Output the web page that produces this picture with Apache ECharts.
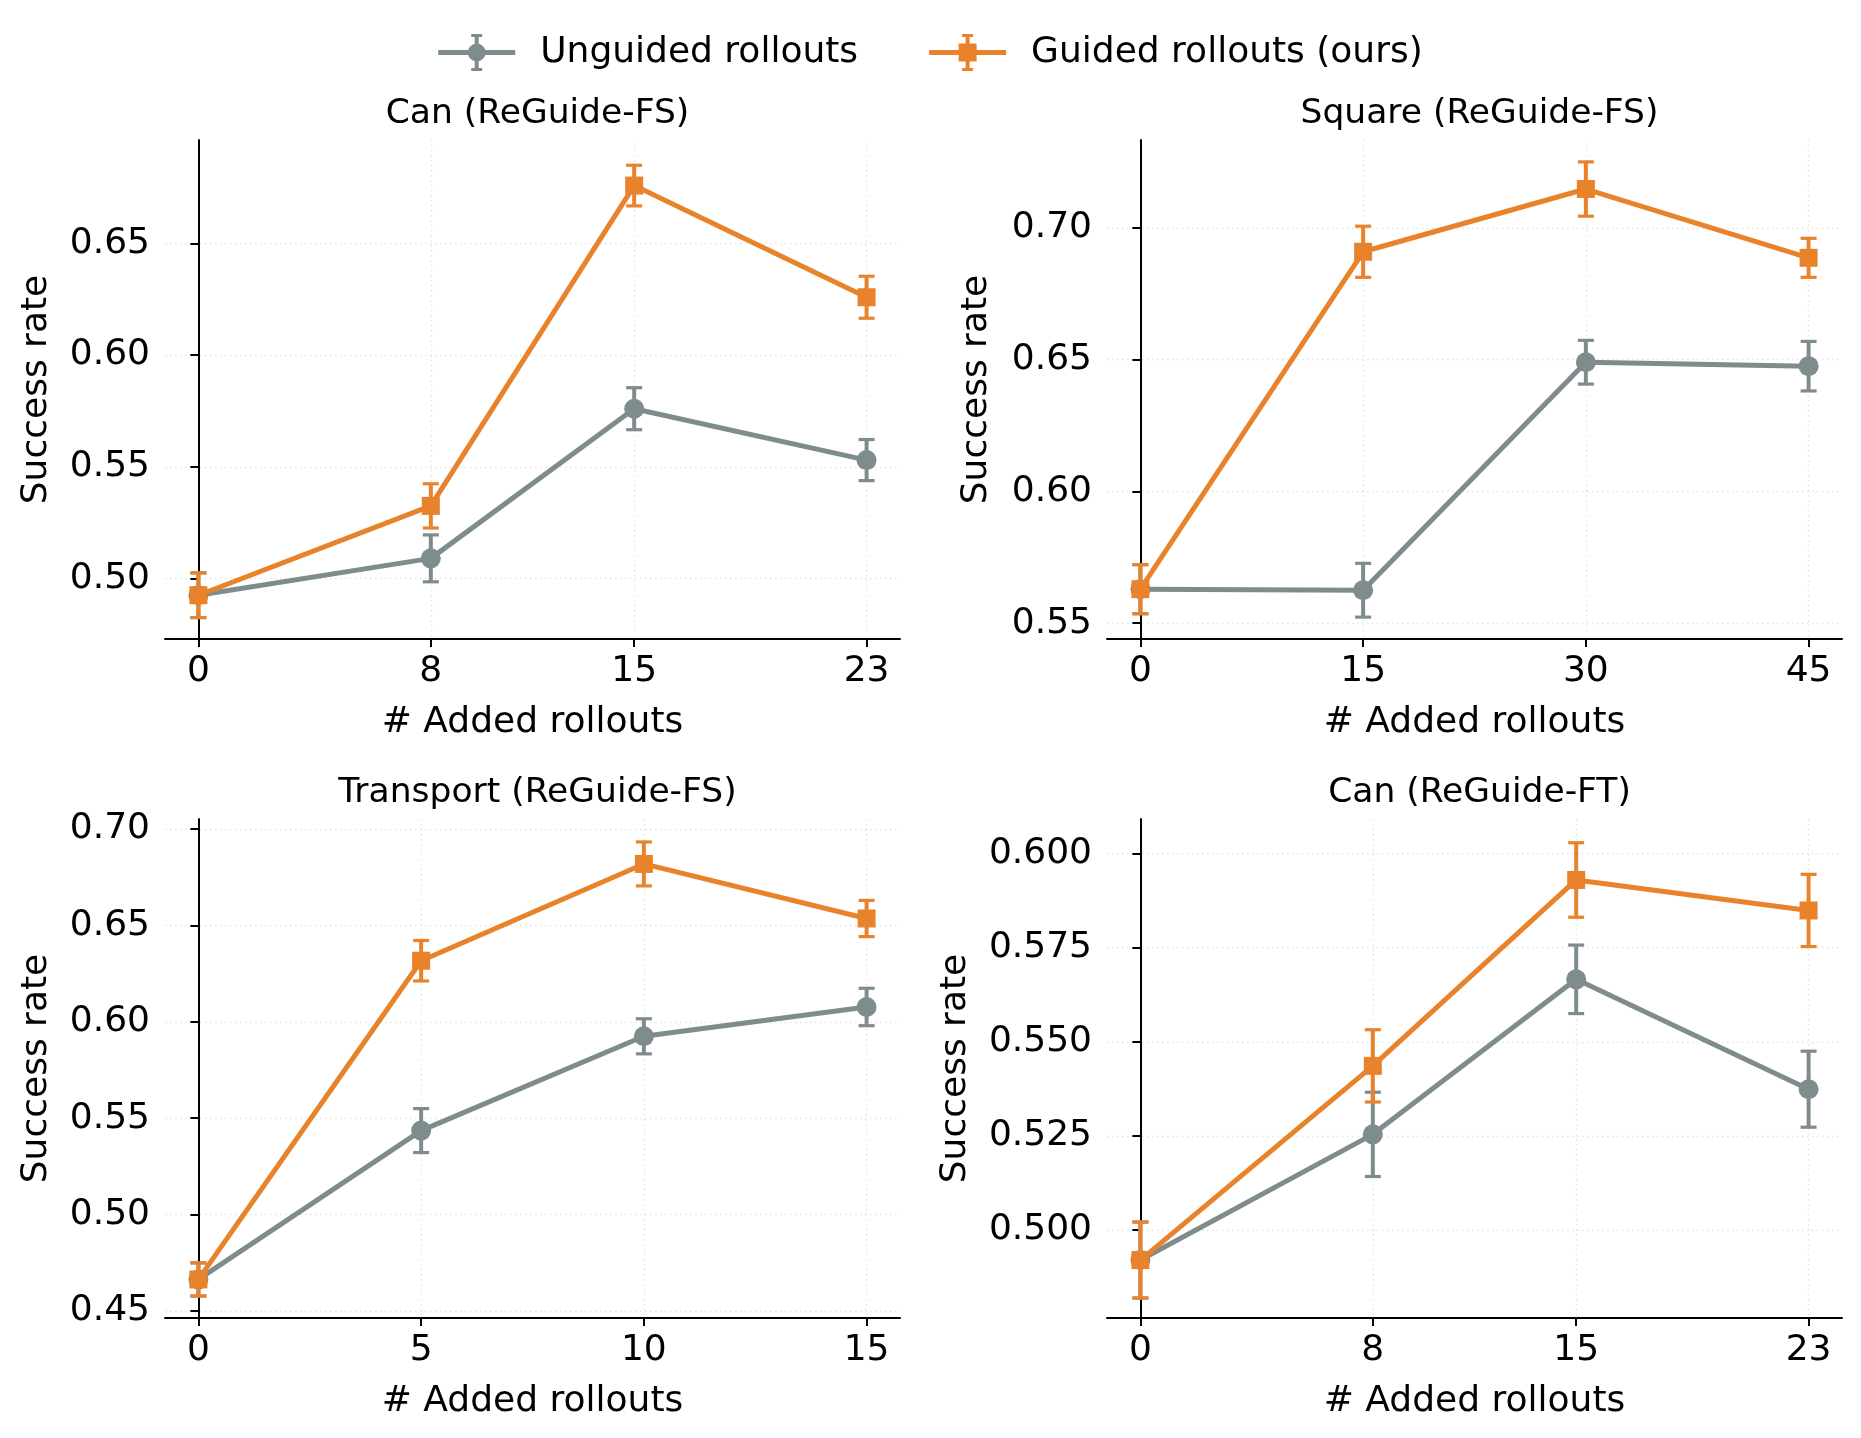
<!DOCTYPE html>
<html>
<head>
<meta charset="utf-8">
<script src="https://cdn.jsdelivr.net/npm/echarts@6/dist/echarts.min.js"></script>
<style>
  html, body { margin: 0; padding: 0; background: #fff; }
  #chart { width: 1861px; height: 1438px; }
</style>
</head>
<body>
<div id="chart"></div>
<script>
// panel titles
var titles = ['Can (ReGuide-FS)', 'Square (ReGuide-FS)', 'Transport (ReGuide-FS)', 'Can (ReGuide-FT)']

// x values (# added rollouts) per panel
var xCanFS = [0, 8, 15, 23]
var xSquare = [0, 15, 30, 45]
var xTransport = [0, 5, 10, 15]
var xCanFT = [0, 8, 15, 23]

// unguided rollouts: mean / error (the 0 point is the shared baseline)
var unguidedCanFS = [0.4925, 0.509, 0.576, 0.553]
var unguidedCanFSErr = [0.010, 0.0105, 0.0094, 0.0092]
var unguidedSquare = [0.5629, 0.5625, 0.649, 0.6475]
var unguidedSquareErr = [0.0093, 0.0102, 0.0083, 0.0094]
var unguidedTransport = [0.4664, 0.5436, 0.5925, 0.6077]
var unguidedTransportErr = [0.0086, 0.0114, 0.0091, 0.0097]
var unguidedCanFT = [0.492, 0.5254, 0.5666, 0.5374]
var unguidedCanFTErr = [0.0101, 0.0112, 0.0091, 0.0101]

// guided rollouts (ours): mean / error
var guidedCanFS = [0.4925, 0.5325, 0.6759, 0.6259]
var guidedCanFSErr = [0.010, 0.0099, 0.0091, 0.0094]
var guidedSquare = [0.5629, 0.6909, 0.7147, 0.6886]
var guidedSquareErr = [0.0093, 0.0097, 0.0103, 0.0074]
var guidedTransport = [0.4664, 0.6317, 0.6819, 0.6536]
var guidedTransportErr = [0.0086, 0.0105, 0.0114, 0.0094]
var guidedCanFT = [0.492, 0.5436, 0.593, 0.5849]
var guidedCanFTErr = [0.0101, 0.0096, 0.0099, 0.0096]

// y tick labels per panel
var yTicksCanFS = [0.50, 0.55, 0.60, 0.65]
var yTicksSquare = [0.55, 0.60, 0.65, 0.70]
var yTicksTransport = [0.45, 0.50, 0.55, 0.60, 0.65, 0.70]
var yTicksCanFT = [0.500, 0.525, 0.550, 0.575, 0.600]

var GRAY = '#7f8c8d'
var ORANGE = '#e8832c'
var FONT = 'DejaVu Sans'

// legend glyphs: line + marker + error bar
var BAR = 'M0 16 H77 V21 H0 Z M36.5 2 H40.5 V35 H36.5 Z M33 0 H44 V3 H33 Z M33 34 H44 V37 H33 Z '
var ICON_CIRCLE = 'path://' + BAR + 'M29.5 18.5 A9 9 0 1 1 47.5 18.5 A9 9 0 1 1 29.5 18.5 Z'
var ICON_SQUARE = 'path://' + BAR + 'M29.5 9.5 H47.5 V27.5 H29.5 Z'

var panels = [
  { x: xCanFS, u: unguidedCanFS, ue: unguidedCanFSErr, g: guidedCanFS, ge: guidedCanFSErr,
    yTicks: yTicksCanFS, ymin: 0.4729, ymax: 0.6963, dec: 2, nameGap: 110 },
  { x: xSquare, u: unguidedSquare, ue: unguidedSquareErr, g: guidedSquare, ge: guidedSquareErr,
    yTicks: yTicksSquare, ymin: 0.544, ymax: 0.7333, dec: 2, nameGap: 112 },
  { x: xTransport, u: unguidedTransport, ue: unguidedTransportErr, g: guidedTransport, ge: guidedTransportErr,
    yTicks: yTicksTransport, ymin: 0.4464, ymax: 0.7052, dec: 2, nameGap: 110 },
  { x: xCanFT, u: unguidedCanFT, ue: unguidedCanFTErr, g: guidedCanFT, ge: guidedCanFTErr,
    yTicks: yTicksCanFT, ymin: 0.4766, ymax: 0.6092, dec: 3, nameGap: 133 }
]

var grids = [
  { left: 165, top: 140, width: 735, height: 499 },
  { left: 1107, top: 140, width: 735, height: 499 },
  { left: 165, top: 819, width: 735, height: 499 },
  { left: 1107, top: 819, width: 735, height: 499 }
]

var splitStyle = { show: true, lineStyle: { color: '#e2e2e2', width: 1.3, type: [1.5, 3.5] } }

function errorBars(params, api) {
  var x = api.value(0)
  var y = api.value(1)
  var e = api.value(2)
  var top = api.coord([x, y + e])
  var bot = api.coord([x, y - e])
  var cap = 8
  var style = { stroke: api.visual('color'), lineWidth: 4 }
  var capStyle = { stroke: api.visual('color'), lineWidth: 3.2 }
  return {
    type: 'group',
    children: [
      { type: 'line', shape: { x1: top[0], y1: top[1], x2: bot[0], y2: bot[1] }, style: style },
      { type: 'line', shape: { x1: top[0] - cap, y1: top[1], x2: top[0] + cap, y2: top[1] }, style: capStyle },
      { type: 'line', shape: { x1: bot[0] - cap, y1: bot[1], x2: bot[0] + cap, y2: bot[1] }, style: capStyle }
    ]
  }
}

var xAxes = [], yAxes = [], series = [], titleList = []

panels.forEach(function (p, i) {
  var xs = p.x
  var span = xs[xs.length - 1] - xs[0]
  var g = grids[i]
  titleList.push({
    text: titles[i],
    left: g.left + g.width / 2,
    top: g.top - 48,
    textAlign: 'center',
    textStyle: { fontFamily: FONT, fontSize: 34.5, fontWeight: 'normal', color: '#000' }
  })
  xAxes.push({
    gridIndex: i,
    type: 'value',
    min: xs[0] - span * 0.05,
    max: xs[xs.length - 1] + span * 0.05,
    name: '# Added rollouts',
    nameLocation: 'middle',
    nameGap: 66,
    nameTextStyle: { fontFamily: FONT, fontSize: 36, color: '#000' },
    axisLine: { lineStyle: { color: '#000', width: 2 } },
    axisTick: { show: true, length: 8, lineStyle: { color: '#000', width: 2 }, customValues: xs },
    axisLabel: { customValues: xs, fontFamily: FONT, fontSize: 36, color: '#000', margin: 15 },
    splitLine: splitStyle
  })
  yAxes.push({
    gridIndex: i,
    type: 'value',
    min: p.ymin,
    max: p.ymax,
    name: 'Success rate',
    nameLocation: 'middle',
    nameGap: p.nameGap,
    nameRotate: 90,
    nameTextStyle: { fontFamily: FONT, fontSize: 36, color: '#000' },
    axisLine: { show: true, lineStyle: { color: '#000', width: 2 } },
    axisTick: { show: true, length: 8, lineStyle: { color: '#000', width: 2 }, customValues: p.yTicks },
    axisLabel: {
      customValues: p.yTicks, fontFamily: FONT, fontSize: 36, color: '#000', margin: 15,
      formatter: (function (d) { return function (v) { return v.toFixed(d) } })(p.dec)
    },
    splitLine: splitStyle
  })

  var groups = [
    { name: 'Unguided rollouts', ys: p.u, es: p.ue, color: GRAY, symbol: 'circle', size: 20, z: 2 },
    { name: 'Guided rollouts (ours)', ys: p.g, es: p.ge, color: ORANGE, symbol: 'rect', size: 18, z: 4 }
  ]
  groups.forEach(function (s) {
    series.push({
      type: 'custom',
      name: s.name + ' err',
      xAxisIndex: i,
      yAxisIndex: i,
      z: s.z,
      itemStyle: { color: s.color },
      renderItem: errorBars,
      data: xs.map(function (x, k) { return [x, s.ys[k], s.es[k]] })
    })
    series.push({
      type: 'line',
      name: s.name,
      xAxisIndex: i,
      yAxisIndex: i,
      z: s.z + 1,
      symbol: s.symbol,
      symbolSize: s.size,
      showAllSymbol: true,
      color: s.color,
      lineStyle: { color: s.color, width: 5 },
      itemStyle: { color: s.color },
      emphasis: { disabled: true },
      data: xs.map(function (x, k) { return [x, s.ys[k]] })
    })
  })
})

var chart = echarts.init(document.getElementById('chart'))
chart.setOption({
  animation: false,
  backgroundColor: '#fff',
  title: titleList,
  legend: {
    data: [
      { name: 'Unguided rollouts', icon: ICON_CIRCLE },
      { name: 'Guided rollouts (ours)', icon: ICON_SQUARE }
    ],
    left: 'center',
    top: 29,
    itemWidth: 77,
    itemHeight: 37,
    itemGap: 71,
    textStyle: { fontFamily: FONT, fontSize: 36, color: '#000', padding: [0, 0, 0, 20] }
  },
  grid: grids,
  xAxis: xAxes,
  yAxis: yAxes,
  series: series
})
</script>
</body>
</html>
